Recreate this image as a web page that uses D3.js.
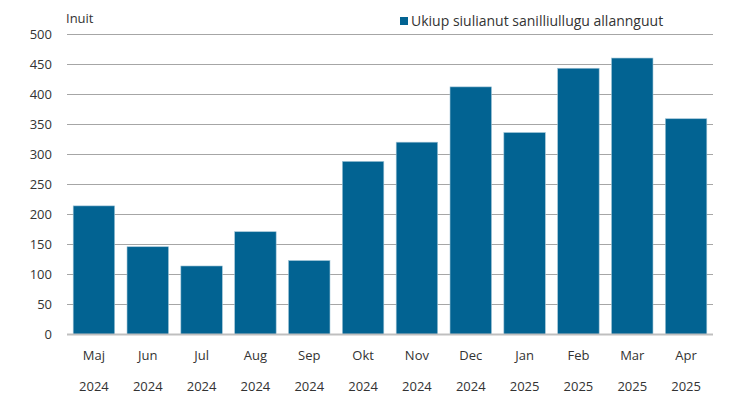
<!DOCTYPE html>
<html lang="kl">
<head>
<meta charset="UTF-8">
<title>Ukiup siulianut sanilliullugu allannguut</title>
<script src="https://cdn.jsdelivr.net/npm/d3@7"></script>
<style>
  * { margin: 0; padding: 0; }
  body { background: #fff; }
  text { font-family: "Open Sans", "Noto Sans", sans-serif; fill: #333; }
</style>
</head>
<body>
<svg id="chart" width="737" height="396"></svg>
<script>
// månedsdata
const months = ['Maj', 'Jun', 'Jul', 'Aug', 'Sep', 'Okt', 'Nov', 'Dec', 'Jan', 'Feb', 'Mar', 'Apr']
const years = ['2024', '2024', '2024', '2024', '2024', '2024', '2024', '2024', '2025', '2025', '2025', '2025']
const values = [214, 146, 114, 171, 123, 288, 320, 412, 336, 443, 460, 359]
const yTicks = [0, 50, 100, 150, 200, 250, 300, 350, 400, 450, 500]
const seriesName = 'Ukiup siulianut sanilliullugu allannguut'
const unitLabel = 'Inuit'

const svg = d3.select('#chart')
const plotL = 67, plotR = 713, plotT = 34, plotB = 334.5

const x = d3.scaleBand().domain(d3.range(months.length)).range([plotL, plotR]).paddingInner(0.23).paddingOuter(0.115)
const y = d3.scaleLinear().domain([0, 500]).range([plotB, plotT])

// gitterlinjer
svg.append('g').selectAll('line').data(yTicks.filter(d => d > 0)).join('line')
    .attr('x1', plotL).attr('x2', plotR)
    .attr('y1', d => Math.round(y(d)) + 0.5).attr('y2', d => Math.round(y(d)) + 0.5)
    .attr('stroke', '#a6a6a6').attr('stroke-width', 1)

// søjler
svg.append('g').selectAll('rect').data(values).join('rect')
    .attr('x', (d, i) => x(i))
    .attr('width', x.bandwidth())
    .attr('y', d => y(d))
    .attr('height', d => y(0) - y(d))
    .attr('fill', '#026392')
    .attr('stroke', '#9ec3d6').attr('stroke-width', 0.6)

// nul-linje
svg.append('line').attr('x1', plotL).attr('x2', plotR)
    .attr('y1', y(0)).attr('y2', y(0))
    .attr('stroke', '#bfbfbf').attr('stroke-width', 2)

// y-akse tekster
svg.append('g').selectAll('text').data(yTicks).join('text')
    .attr('x', 52).attr('y', d => y(d))
    .attr('dy', '0.35em')
    .attr('text-anchor', 'end')
    .attr('font-size', '13px')
    .text(d => d)

// x-akse tekster
const xl = svg.append('g')
xl.selectAll('.m').data(months).join('text').attr('class', 'm')
    .attr('x', (d, i) => x(i) + x.bandwidth() / 2).attr('y', 360)
    .attr('text-anchor', 'middle').attr('font-size', '13px')
    .text(d => d)
xl.selectAll('.yr').data(years).join('text').attr('class', 'yr')
    .attr('x', (d, i) => x(i) + x.bandwidth() / 2).attr('y', 391)
    .attr('text-anchor', 'middle').attr('font-size', '13px')
    .text(d => d)

// enhed
svg.append('text').attr('x', 66).attr('y', 23).attr('font-size', '13px').text(unitLabel)

// legende
svg.append('rect').attr('x', 400).attr('y', 17).attr('width', 8).attr('height', 8).attr('fill', '#026392')
svg.append('text').attr('x', 411).attr('y', 26).attr('font-size', '14px').text(seriesName)
</script>
</body>
</html>
